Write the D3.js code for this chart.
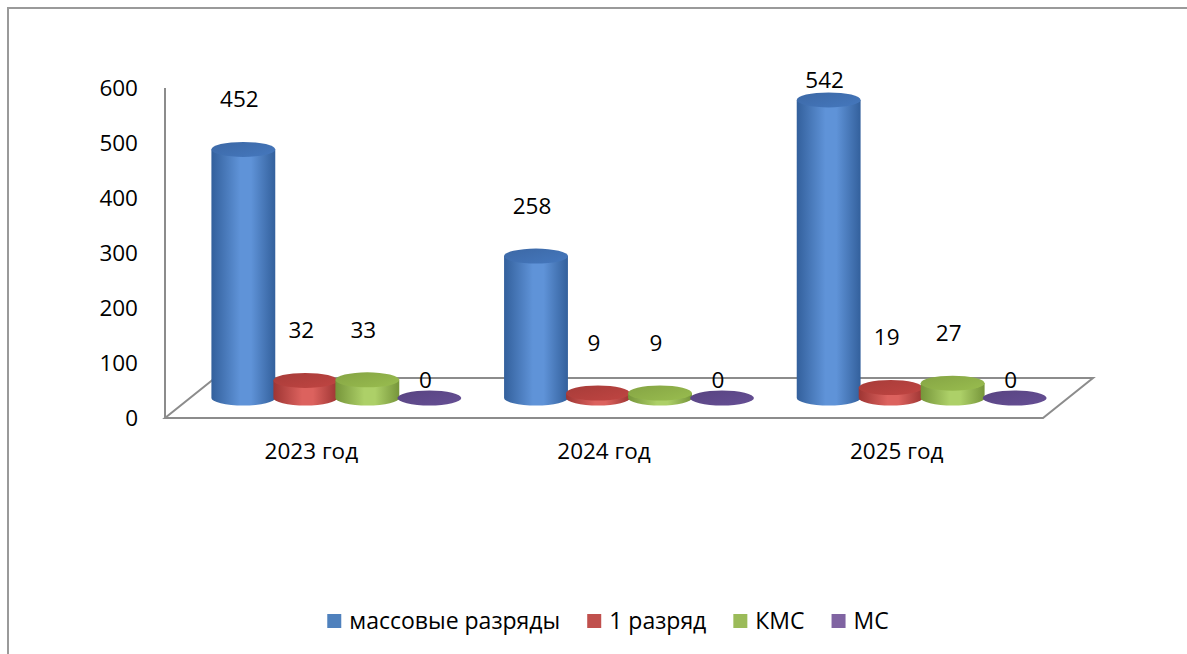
<!DOCTYPE html>
<html>
<head>
<meta charset="utf-8">
<script src="https://cdn.jsdelivr.net/npm/d3@7"></script>
<style>
  body { margin: 0; background: #fff; }
  svg { display: block; font-family: "Open Sans", "Noto Sans", sans-serif; }
</style>
</head>
<body>
<div id="chart"></div>
<script>
// data
const years = ['2023 год', '2024 год', '2025 год']
const seriesNames = ['массовые разряды', '1 разряд', 'КМС', 'МС']
const massovye = [452, 258, 542]
const razryad1 = [32, 9, 19]
const kms = [33, 9, 27]
const ms = [0, 0, 0]
const yTicks = [0, 100, 200, 300, 400, 500, 600]

const seriesValues = [massovye, razryad1, kms, ms]

// office 2007 palette: base, side edge, side light, top
const PALETTE = [
  { base: '#4f81bd', edge: '#33609c', light: '#5f93d8', top: '#3f6eae' },
  { base: '#c0504d', edge: '#9e3533', light: '#dc625e', top: '#b03f3c' },
  { base: '#9bbb59', edge: '#76953a', light: '#add068', top: '#8cad48' },
  { base: '#8064a2', edge: '#5a4382', light: '#7c63a6', top: '#5d4888' },
]

const FONT = 22.5

const width = 1187
const height = 654

const svg = d3.select('#chart').append('svg')
  .attr('width', width)
  .attr('height', height)

// outer frame (only left and top edges are visible)
svg.append('rect')
  .attr('x', 8).attr('y', 8)
  .attr('width', 1300).attr('height', 800)
  .attr('fill', '#fff')
  .attr('stroke', '#9a9a9a')
  .attr('stroke-width', 2)

// front plane geometry
const floorLeft = 165, floorRight = 1043
const depthX = 50, depthY = -40     // full floor depth
const midX = depthX / 2, midY = depthY / 2

const x = d3.scaleBand().domain(years).range([floorLeft, floorRight])
const xs = d3.scaleBand().domain(seriesNames).range([-124, 124])
const y = d3.scaleLinear().domain([0, 600]).range([418, 88])

const defs = svg.append('defs')
PALETTE.forEach((p, i) => {
  const side = defs.append('linearGradient').attr('id', 'side' + i)
    .attr('x1', 0).attr('x2', 1).attr('y1', 0).attr('y2', 0)
  side.append('stop').attr('offset', '0%').attr('stop-color', p.edge)
  side.append('stop').attr('offset', '45%').attr('stop-color', p.light)
  side.append('stop').attr('offset', '62%').attr('stop-color', p.light)
  side.append('stop').attr('offset', '100%').attr('stop-color', p.edge)
  const top = defs.append('linearGradient').attr('id', 'top' + i)
    .attr('x1', 0).attr('x2', 1).attr('y1', 0).attr('y2', 1)
  top.append('stop').attr('offset', '0%').attr('stop-color', d3.color(p.top).darker(0.15))
  top.append('stop').attr('offset', '100%').attr('stop-color', d3.color(p.top).brighter(0.25))
})

// floor
const y0 = y(0)
const floor = d3.path()
floor.moveTo(floorLeft, y0)
floor.lineTo(floorRight, y0)
floor.lineTo(floorRight + depthX, y0 + depthY)
floor.lineTo(floorLeft + depthX, y0 + depthY)
floor.closePath()
svg.append('path')
  .attr('d', floor.toString())
  .attr('fill', 'none')
  .attr('stroke', '#8c8c8c')
  .attr('stroke-width', 2)

// vertical axis line
svg.append('line')
  .attr('x1', floorLeft).attr('x2', floorLeft)
  .attr('y1', y(600)).attr('y2', y0)
  .attr('stroke', '#8c8c8c')
  .attr('stroke-width', 2)

// y axis labels
const yAxis = svg.append('g')
  .attr('transform', `translate(${floorLeft},0)`)
  .call(d3.axisLeft(y).tickValues(yTicks).tickSize(0).tickPadding(27))
yAxis.select('.domain').remove()
yAxis.selectAll('text')
  .attr('font-size', FONT)
  .attr('font-family', '"Open Sans", sans-serif')
  .attr('fill', '#000')

// x axis labels
const xAxis = svg.append('g')
  .attr('transform', `translate(0,${y0})`)
  .call(d3.axisBottom(x).tickSize(0).tickPadding(25))
xAxis.select('.domain').remove()
xAxis.selectAll('text')
  .attr('font-size', FONT)
  .attr('font-family', '"Open Sans", sans-serif')
  .attr('fill', '#000')

// cylinders
const rows = []
years.forEach((yr, gi) => {
  seriesNames.forEach((s, si) => {
    rows.push({ year: yr, series: s, si, value: seriesValues[si][gi] })
  })
})

const ry = 7.5
const bars = svg.append('g')
rows.forEach(d => {
  const cx = x(d.year) + x.bandwidth() / 2 + xs(d.series) + xs.bandwidth() / 2 + midX
  const rx = xs.bandwidth() * 1.03 / 2
  const base = y(0) + midY
  const top = y(d.value) + midY
  d.cx = cx
  d.top = top
  const g = bars.append('g')
  if (d.value > 0) {
    g.append('path')
      .attr('d', `M${cx - rx},${top} L${cx - rx},${base} A${rx},${ry} 0 0 0 ${cx + rx},${base} L${cx + rx},${top} Z`)
      .attr('fill', `url(#side${d.si})`)
  }
  g.append('ellipse')
    .attr('cx', cx).attr('cy', top)
    .attr('rx', rx).attr('ry', ry)
    .attr('fill', `url(#top${d.si})`)
})

// data labels
svg.append('g').selectAll('text')
  .data(rows)
  .join('text')
  .attr('x', d => d.cx - 4)
  .attr('y', d => Math.max(80, d.top - (d.value > 0 ? 50 : 18)))
  .attr('dy', '0.35em')
  .attr('text-anchor', 'middle')
  .attr('font-size', FONT)
  .attr('fill', '#000')
  .text(d => d.value)

// legend
const legend = svg.append('g')
const items = legend.selectAll('g').data(seriesNames).join('g')
items.append('rect')
  .attr('width', 14).attr('height', 14)
  .attr('y', -15)
  .attr('fill', (d, i) => PALETTE[i].base)
items.append('text')
  .attr('x', 22)
  .attr('y', 0)
  .attr('font-size', 23)
  .attr('fill', '#000')
  .text(d => d)
let lx = 0
items.each(function () {
  const w = this.getBBox().width
  d3.select(this).attr('transform', `translate(${lx},0)`)
  lx += w + 27
})
const legendW = lx - 27
legend.attr('transform', `translate(${608 - legendW / 2},629)`)
</script>
</body>
</html>
